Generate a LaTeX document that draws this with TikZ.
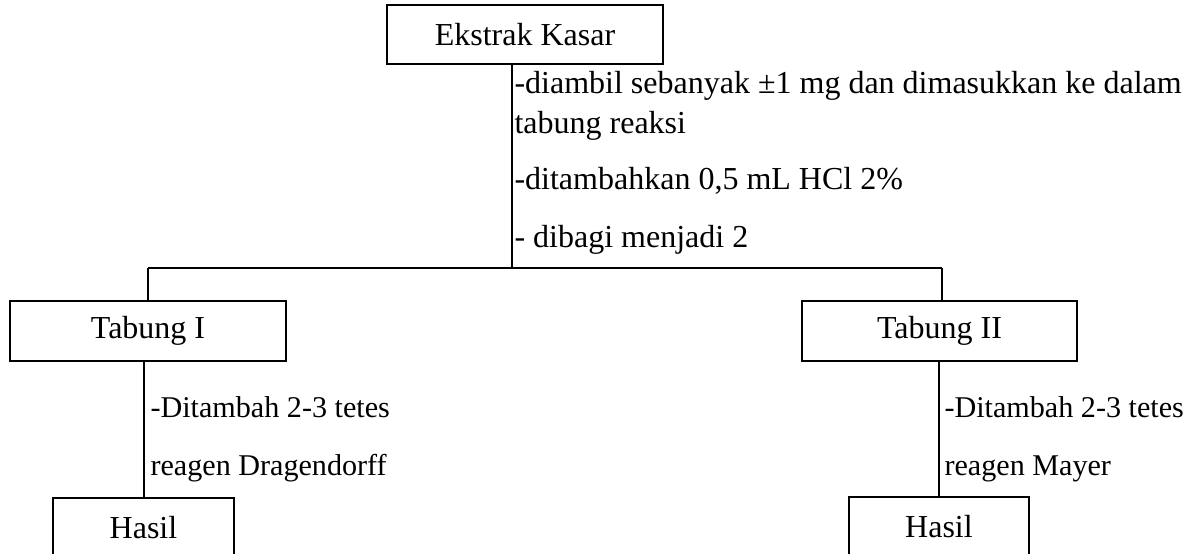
\documentclass[tikz,border=0pt]{standalone}
\usepackage{fontspec}
\setmainfont{Liberation Serif}
\begin{document}
\begin{tikzpicture}[x=0.375pt,y=-0.375pt,
  box/.style={draw,line width=0.75pt,inner sep=0pt,font=\fontsize{12}{14}\selectfont},
  lbl/.style={anchor=base west,inner sep=0pt,font=\fontsize{12}{14}\selectfont},
  lbls/.style={anchor=base west,inner sep=0pt,font=\fontsize{11.3}{14}\selectfont},
  conn/.style={line width=0.75pt}]
\useasboundingbox (0,0) rectangle (1195,553);
\node[box,minimum width=103.5pt,minimum height=22.1pt] (ek) at (525,34.5) {Ekstrak Kasar};
\node[box,minimum width=103.5pt,minimum height=22.5pt] (t1) at (148,331) {Tabung I};
\node[box,minimum width=103.1pt,minimum height=22.5pt] (t2) at (939.5,330.5) {Tabung II};
\node[box,minimum width=67.9pt,minimum height=22.5pt] (h1) at (143.5,528) {Hasil};
\node[box,minimum width=67.5pt,minimum height=22.5pt] (h2) at (939,527) {Hasil};
\coordinate (j) at (512,268);
\coordinate (jl) at (148,268);
\coordinate (jr) at (942,268);
\draw[conn] (ek.south -| j) -- (j);
\draw[conn] (jl) -- (jr);
\draw[conn] (jl) -- (t1.north -| jl);
\draw[conn] (jr) -- (t2.north -| jr);
\draw[conn] (t1.south -| h1) -- (h1.north);
\draw[conn] (t2.south -| h2) -- (h2.north);
\node[lbl] (a1) at (514,93) {-diambil sebanyak \textpm1 mg dan dimasukkan ke dalam};
\node[lbl] (a2) at (514,133) {tabung reaksi};
\node[lbl] (a3) at (514,189) {-ditambahkan 0,5 mL HCl 2\%};
\node[lbl] (a4) at (514,247) {- dibagi menjadi 2};
\node[lbls] (b1) at (150,417) {-Ditambah 2-3 tetes};
\node[lbls] (b2) at (150,475) {reagen Dragendorff};
\node[lbls] (c1) at (944,417) {-Ditambah 2-3 tetes};
\node[lbls] (c2) at (944,475) {reagen Mayer};
\end{tikzpicture}
\end{document}
